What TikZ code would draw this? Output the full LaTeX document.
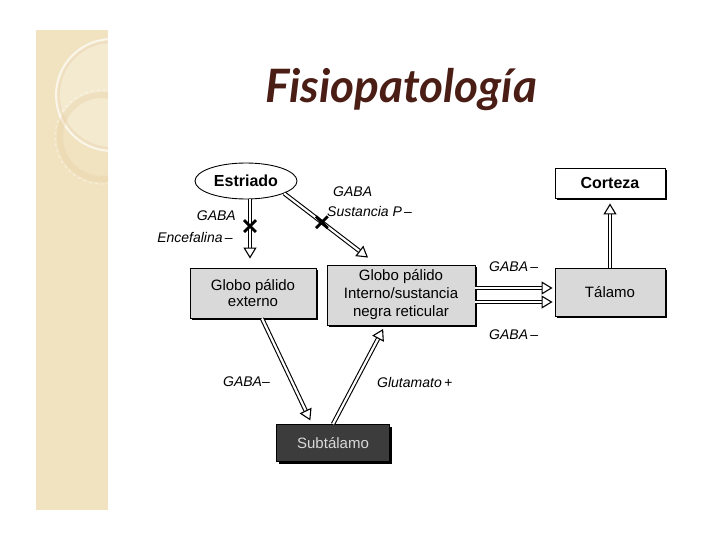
\documentclass[tikz,border=0pt]{standalone}
\usepackage{fontspec}
\setmainfont{Liberation Sans}
\newfontfamily\titulofont{Lato}
\usetikzlibrary{shapes.geometric,shapes.misc,shadows,arrows.meta}

\definecolor{beige}{HTML}{F1E3C0}
\definecolor{marron}{HTML}{4A1D15}
\definecolor{gris}{HTML}{D9D9D9}
\definecolor{oscuro}{HTML}{3C3C3C}

\tikzset{
  caja/.style={draw, line width=0.9pt, fill=gris, align=center, font=\fontsize{15}{16}\selectfont,
    drop shadow={shadow xshift=2pt, shadow yshift=-2pt, fill=black, opacity=1}},
  flecha/.style={double=white, double distance=2.2pt, line width=1.1pt,
    -{Triangle[open, length=11pt, width=13pt, line width=1.1pt]}},
  etiqueta/.style={font=\fontsize{14}{15}\selectfont\itshape, inner sep=1pt},
  marca/.style={cross out, draw, line width=2.8pt, minimum size=9pt, inner sep=0pt}
}

\begin{document}
\begin{tikzpicture}[x=1pt, y=-1pt]
  % Marco de la diapositiva.
  \useasboundingbox (0,0) rectangle (720,540);
  \fill[white] (0,0) rectangle (720,540);

  % Franja decorativa de la izquierda.
  \fill[beige] (36,30) rectangle (108,510);
  \begin{scope}
    \clip (36,30) rectangle (108,510);
    \fill[white, opacity=0.25] (112,95) circle (52);
    \draw[white, line width=2pt, opacity=0.7] (112,95) circle (56);
    \draw[brown!30, line width=0.6pt] (112,95) circle (53);
    \draw[beige!80!brown, line width=6pt, opacity=0.4] (102,137) circle (42);
    \draw[white, line width=0.8pt, opacity=0.6, dashed] (102,137) circle (47);
  \end{scope}

  % Titulo.
  \node[text=marron, font=\titulofont\bfseries\itshape\fontsize{46}{50}\selectfont]
    (titulo) at (401,90) {Fisiopatología};

  % Nucleos.
  \node[ellipse, draw, line width=0.9pt, fill=white, minimum width=102pt, minimum height=36pt,
    font=\fontsize{16}{17}\selectfont\bfseries] (estriado) at (246,181) {Estriado};
  \node[caja, fill=white, minimum width=110pt, minimum height=30pt, font=\fontsize{16}{17}\selectfont\bfseries]
    (corteza) at (610,183) {Corteza};
  \node[caja, minimum width=126pt, minimum height=50pt] (gpe) at (253,293)
    {Globo pálido\\externo};
  \node[caja, minimum width=148pt, minimum height=60pt, inner sep=1pt,
    font=\fontsize{15}{18}\selectfont] (gpi) at (401,295)
    {Globo pálido\\Interno/sustancia\\negra reticular};
  \node[caja, minimum width=110pt, minimum height=48pt] (talamo) at (610,292) {Tálamo};
  \node[caja, fill=oscuro, text=white!85!black, minimum width=113pt, minimum height=37pt]
    (subt) at (333,443) {Subtálamo};

  % Conexiones del estriado.
  \draw[flecha] (estriado.south -| 250,0) -- ([yshift=9pt]gpe.north -| 250,0)
    node[marca, pos=0.45] (x1) {};
  \draw[flecha] (estriado.-18) -- ([xshift=-33pt, yshift=7pt]gpi.north)
    node[marca, pos=0.45] (x2) {};
  \node[etiqueta, anchor=east] at (237,216) {GABA};
  \node[etiqueta, anchor=east] at (234,237) {Encefalina\,–};
  \node[etiqueta, anchor=west] at (332,192) {GABA};
  \node[etiqueta, anchor=west] at (326,211) {Sustancia P\,–};

  % Salidas hacia el talamo y la corteza.
  \draw[flecha, shorten >=2pt] ([yshift=7pt]gpi.east) -- ([yshift=7pt]gpi.east -| talamo.west);
  \draw[flecha, shorten >=2pt] ([yshift=-7pt]gpi.east) -- ([yshift=-7pt]gpi.east -| talamo.west);
  \draw[flecha, shorten >=5pt] (talamo.north) -- (corteza.south);
  \node[etiqueta, anchor=west] at (488,267) {GABA\,–};
  \node[etiqueta, anchor=west] at (488,335) {GABA\,–};

  % Circuito con el subtalamo.
  \draw[flecha, shorten >=4pt] ([xshift=9pt]gpe.south) -- ([xshift=-21pt]subt.north);
  \draw[flecha, shorten >=4pt] (subt.north) -- ([xshift=-16pt]gpi.south);
  \node[etiqueta, anchor=east] at (271,382) {GABA–};
  \node[etiqueta, anchor=west] at (376,382) {Glutamato\,+};
\end{tikzpicture}
\end{document}
